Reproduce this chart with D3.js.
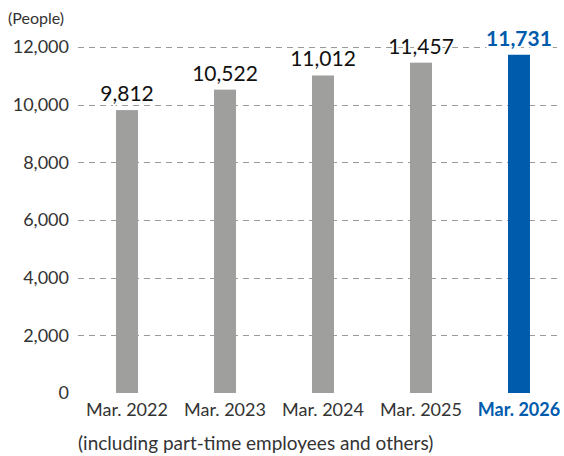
<!DOCTYPE html>
<html>
<head>
<meta charset="utf-8">
<script src="https://cdn.jsdelivr.net/npm/d3@7"></script>
<style>
  body { margin: 0; background: #fff; }
  svg { font-family: Lato, "Open Sans", sans-serif; }
</style>
</head>
<body>
<svg id="chart" width="564" height="456"></svg>
<script>
// data
var years = ["Mar. 2022", "Mar. 2023", "Mar. 2024", "Mar. 2025", "Mar. 2026"]
var employees = [9812, 10522, 11012, 11457, 11731]
var yTicks = [0, 2000, 4000, 6000, 8000, 10000, 12000]
var unitLabel = "(People)"
var footnote = "(including part-time employees and others)"

var gray = "#9fa09e"
var blue = "#005bac"

var svg = d3.select("#chart")
var plotLeft = 78, plotRight = 568, plotTop = 47, plotBottom = 393

var x = d3.scaleBand()
    .domain(years)
    .range([plotLeft, plotRight])
    .paddingInner(0.7755)
    .paddingOuter(0.388)

var y = d3.scaleLinear()
    .domain([0, 12000])
    .range([plotBottom, plotTop])

// gridlines
svg.append("g")
    .selectAll("line")
    .data(yTicks.filter(d => d > 0))
    .enter().append("line")
    .attr("x1", plotLeft)
    .attr("x2", 560)
    .attr("y1", d => Math.round(y(d)) + 0.5)
    .attr("y2", d => Math.round(y(d)) + 0.5)
    .style("stroke", "#9a9a9a")
    .style("stroke-width", 1)
    .style("stroke-dasharray", "6,5")

// y axis labels
var yAxis = d3.axisLeft(y).tickValues(yTicks).tickSize(0).tickPadding(9)
    .tickFormat(d3.format(","))
var ya = svg.append("g")
    .attr("transform", "translate(" + plotLeft + ",0)")
    .call(yAxis)
ya.select(".domain").remove()
ya.selectAll("text")
    .style("font-size", "18px")
    .style("fill", "#333")
    .style("font-family", "Lato, 'Open Sans', sans-serif")

svg.append("text")
    .attr("x", 8)
    .attr("y", 24)
    .style("font-size", "16px")
    .style("fill", "#333")
    .text(unitLabel)

// bars
svg.append("g")
    .selectAll("rect")
    .data(employees)
    .enter().append("rect")
    .attr("x", (d, i) => x(years[i]))
    .attr("y", d => y(d))
    .attr("width", x.bandwidth())
    .attr("height", d => y(0) - y(d))
    .style("fill", (d, i) => i == years.length - 1 ? blue : gray)

// value labels
svg.append("g")
    .selectAll("text")
    .data(employees)
    .enter().append("text")
    .attr("x", (d, i) => x(years[i]) + x.bandwidth() / 2)
    .attr("y", d => y(d) - 9)
    .attr("text-anchor", "middle")
    .style("font-size", "21px")
    .style("font-weight", (d, i) => i == years.length - 1 ? "bold" : "normal")
    .style("fill", (d, i) => i == years.length - 1 ? blue : "#111")
    .style("stroke", "#fff")
    .style("stroke-width", 4)
    .style("paint-order", "stroke")
    .text(d => d3.format(",")(d))

// x axis labels
var xAxis = d3.axisBottom(x).tickSize(0).tickPadding(10)
var xa = svg.append("g")
    .attr("transform", "translate(0," + plotBottom + ")")
    .call(xAxis)
xa.select(".domain").remove()
xa.selectAll("text")
    .style("font-size", "18px")
    .style("font-family", "Lato, 'Open Sans', sans-serif")
    .style("fill", d => d == years[years.length - 1] ? blue : "#333")
    .style("font-weight", d => d == years[years.length - 1] ? "bold" : "normal")

svg.append("text")
    .attr("x", 78)
    .attr("y", 450)
    .style("font-size", "19px")
    .style("fill", "#333")
    .text(footnote)
</script>
</body>
</html>
